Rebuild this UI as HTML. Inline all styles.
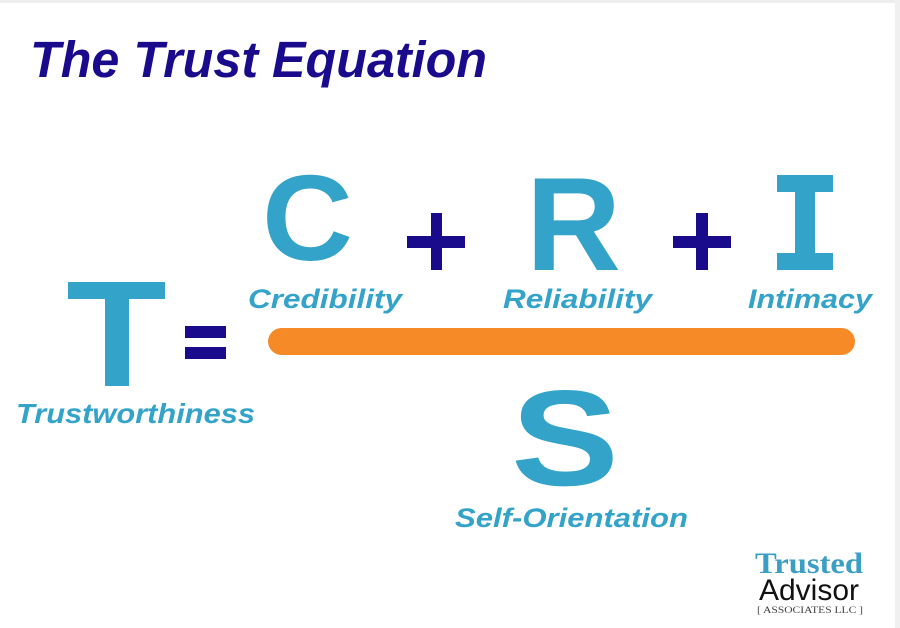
<!DOCTYPE html>
<html><head><meta charset="utf-8"><style>
html,body{margin:0;padding:0;background:#fff;}
svg{display:block;}
</style></head><body>
<svg width="900" height="628" viewBox="0 0 900 628" xmlns="http://www.w3.org/2000/svg">
<rect x="0" y="0" width="900" height="628" fill="#fff"/>
<rect x="0" y="0" width="900" height="3" fill="#eeeeee"/>
<rect x="895" y="0" width="5" height="628" fill="#f0f0f0"/>
<g font-family="Liberation Sans, Arial, sans-serif" font-weight="bold">
<text x="30" y="77" font-size="51" font-style="italic" fill="#1a0a8c" textLength="457" lengthAdjust="spacingAndGlyphs">The Trust Equation</text>
<text x="262" y="260" font-size="122" fill="#33a3c9" textLength="91" lengthAdjust="spacingAndGlyphs">C</text>
<text x="526" y="270" font-size="133" fill="#33a3c9" textLength="95" lengthAdjust="spacingAndGlyphs">R</text>
<text x="511" y="485" font-size="136" fill="#33a3c9" textLength="108" lengthAdjust="spacingAndGlyphs">S</text>
<g font-style="italic" fill="#33a3c9" font-size="27">
<text x="248" y="308" textLength="154" lengthAdjust="spacingAndGlyphs">Credibility</text>
<text x="503" y="308" textLength="149" lengthAdjust="spacingAndGlyphs">Reliability</text>
<text x="748" y="308" textLength="124" lengthAdjust="spacingAndGlyphs">Intimacy</text>
<text x="16" y="423" font-size="28" textLength="239" lengthAdjust="spacingAndGlyphs">Trustworthiness</text>
<text x="455" y="527" textLength="233" lengthAdjust="spacingAndGlyphs">Self-Orientation</text>
</g>
</g>
<g fill="#1a0a8c">
<rect x="407" y="236" width="58" height="12"/>
<rect x="431" y="213" width="11" height="57"/>
<rect x="673" y="236" width="58" height="12"/>
<rect x="696" y="213" width="12" height="57"/>
<rect x="185" y="326" width="41" height="12"/>
<rect x="185" y="347" width="41" height="12"/>
</g>
<g fill="#33a3c9">
<rect x="777" y="175" width="56" height="17"/>
<rect x="795" y="175" width="20" height="95"/>
<rect x="777" y="253" width="56" height="17"/>
<rect x="68" y="282" width="97" height="17"/>
<rect x="105" y="282" width="24" height="104"/>
</g>
<rect x="268" y="328" width="587" height="27" rx="13.5" fill="#f58a27"/>
<text x="755" y="573" font-family="Liberation Serif, serif" font-weight="bold" font-size="30" fill="#3b9fc5" textLength="108" lengthAdjust="spacingAndGlyphs">Trusted</text>
<text x="759" y="600" font-family="Liberation Sans, sans-serif" font-size="30" fill="#111" textLength="100" lengthAdjust="spacingAndGlyphs">Advisor</text>
<text x="757" y="613" font-family="Liberation Serif, serif" font-size="9" fill="#444" textLength="106" lengthAdjust="spacingAndGlyphs">[ ASSOCIATES LLC ]</text>
</svg>
</body></html>
